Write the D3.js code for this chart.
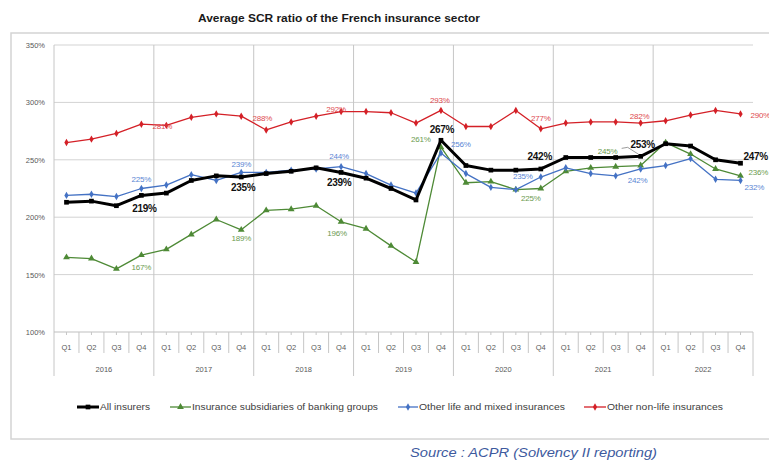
<!DOCTYPE html>
<html>
<head>
<meta charset="utf-8">
<script src="https://cdn.jsdelivr.net/npm/d3@7"></script>
<style>
  html, body { margin: 0; padding: 0; background: #fff; }
  svg { display: block; font-family: "Liberation Sans", Arial, sans-serif; }
</style>
</head>
<body>
<svg id="chart" width="769" height="461"></svg>
<script>
// ---- Data ----
const years = ["2016", "2017", "2018", "2019", "2020", "2021", "2022"];
const quarters = ["Q1", "Q2", "Q3", "Q4"];
const yTicks = [100, 150, 200, 250, 300, 350];

const allInsurers = [213, 214, 210, 219, 221, 232, 236, 235, 238, 240, 243, 239, 234, 225, 215, 267, 245, 241, 241, 242, 252, 252, 252, 253, 264, 262, 250, 247];
const bankingSubsidiaries = [165, 164, 155, 167, 172, 185, 198, 189, 206, 207, 210, 196, 190, 175, 161, 261, 230, 231, 224, 225, 240, 243, 244, 245, 265, 255, 242, 236];
const otherLifeMixed = [219, 220, 218, 225, 228, 237, 232, 239, 239, 241, 242, 244, 238, 228, 221, 256, 238, 226, 224, 235, 243, 238, 236, 242, 245, 251, 233, 232];
const otherNonLife = [265, 268, 273, 281, 280, 287, 290, 288, 276, 283, 288, 292, 292, 291, 282, 293, 279, 279, 293, 277, 282, 283, 283, 282, 284, 289, 293, 290];

const seriesNames = ["All insurers", "Insurance subsidiaries of banking groups", "Other life and mixed insurances", "Other non-life insurances"];
const titleText = "Average SCR ratio of the French insurance sector";
const sourceText = "Source : ACPR (Solvency II reporting)";

// ---- Build ----
const cats = [];
years.forEach(y => quarters.forEach(q => cats.push(y + "-" + q)));

const svg = d3.select("#chart");
const x = d3.scaleBand().domain(cats).range([54, 753]).padding(0);
const y = d3.scaleLinear().domain([100, 350]).range([332, 45]);
const cx = i => x(cats[i]) + x.bandwidth() / 2;

// outer frame
svg.append("rect").attr("x", 11).attr("y", 33).attr("width", 780).attr("height", 406)
  .attr("fill", "none").attr("stroke", "#d4d4d4").attr("stroke-width", 1.5);

// title
svg.append("text").attr("x", 198).attr("y", 21.5).text(titleText)
  .attr("font-size", 11).attr("font-weight", "bold").attr("fill", "#1a1a1a")
  .attr("textLength", 282).attr("lengthAdjust", "spacingAndGlyphs");

// horizontal gridlines
svg.append("g").selectAll("line").data(yTicks.filter(d => d > 100)).join("line")
  .attr("x1", 54).attr("x2", 753).attr("y1", d => y(d)).attr("y2", d => y(d))
  .attr("stroke", "#d3d3d3").attr("stroke-width", 1);

// y labels
svg.append("g").selectAll("text").data(yTicks).join("text")
  .attr("x", 45).attr("y", d => y(d) + 3).attr("text-anchor", "end")
  .attr("font-size", 7.5).attr("fill", "#595959").text(d => d + "%");

// year separators (full height)
const yearBounds = years.map((yr, i) => x(yr + "-Q1")).concat([753]);
svg.append("g").selectAll("line").data(yearBounds).join("line")
  .attr("x1", d => d).attr("x2", d => d)
  .attr("y1", (d, i) => i === yearBounds.length - 1 ? y(100) : y(350)).attr("y2", 376)
  .attr("stroke", "#c6c6c6").attr("stroke-width", 1);

// axis line
svg.append("line").attr("x1", 54).attr("x2", 753).attr("y1", y(100)).attr("y2", y(100))
  .attr("stroke", "#bfbfbf").attr("stroke-width", 1);

// quarter separators
svg.append("g").selectAll("line").data(cats.filter(c => !c.endsWith("Q1"))).join("line")
  .attr("x1", d => x(d)).attr("x2", d => x(d)).attr("y1", y(100)).attr("y2", 353)
  .attr("stroke", "#c6c6c6").attr("stroke-width", 1);
// small ticks
svg.append("g").selectAll("line").data(cats).join("line")
  .attr("x1", (d, i) => cx(i)).attr("x2", (d, i) => cx(i)).attr("y1", y(100)).attr("y2", y(100) + 3)
  .attr("stroke", "#c6c6c6").attr("stroke-width", 1);

// quarter labels
svg.append("g").selectAll("text").data(cats).join("text")
  .attr("x", (d, i) => cx(i)).attr("y", 350).attr("text-anchor", "middle")
  .attr("font-size", 7.5).attr("fill", "#595959").text(d => d.split("-")[1]);
// year labels
svg.append("g").selectAll("text").data(years).join("text")
  .attr("x", d => x(d + "-Q1") + 2 * x.bandwidth()).attr("y", 372).attr("text-anchor", "middle")
  .attr("font-size", 7.5).attr("fill", "#595959").text(d => d);

// ---- series ----
const series = [
  { name: seriesNames[0], values: allInsurers, color: "#000000", width: 3, symbol: d3.symbolSquare, size: 22, label: "#111111", bold: true, lsize: 10 },
  { name: seriesNames[1], values: bankingSubsidiaries, color: "#4e8a36", width: 1.3, symbol: d3.symbolTriangle, size: 20, label: "#6b9b4f", bold: false, lsize: 8 },
  { name: seriesNames[2], values: otherLifeMixed, color: "#4472c4", width: 1.3, symbol: d3.symbolDiamond, size: 16, label: "#5b86d4", bold: false, lsize: 8 },
  { name: seriesNames[3], values: otherNonLife, color: "#d42027", width: 1.3, symbol: d3.symbolDiamond, size: 16, label: "#de4a4f", bold: false, lsize: 8 }
];

// draw order: red, green, blue, black on top
const order = [3, 1, 2, 0];
const line = d3.line().x((d, i) => cx(i)).y(d => y(d));
order.forEach(k => {
  const s = series[k];
  const g = svg.append("g");
  g.append("path").attr("d", line(s.values)).attr("fill", "none")
    .attr("stroke", s.color).attr("stroke-width", s.width).attr("stroke-linejoin", "round");
  g.selectAll("path.m").data(s.values).join("path").attr("class", "m")
    .attr("transform", (d, i) => `translate(${cx(i)},${y(d)})`)
    .attr("d", d3.symbol().type(s.symbol).size(s.size)).attr("fill", s.color);
});

// data labels (offsets from point: dx, dy, anchor) at each Q4
const labelOffsets = [
  [[3, 13, "middle"], [2, 10, "middle"], [-2, 10, "middle"], [1, -11, "middle"], [-1, -12, "middle"], [2, -12, "middle"], [3, -7, "start"]],
  [[0, 12, "middle"], [0, 8, "middle"], [-4, 11, "middle"], [-20, -8, "middle"], [-10, 9, "middle"], [-33, -15, "middle"], [8, -4, "start"]],
  [[0, -10, "middle"], [0, -8, "middle"], [-2, -11, "middle"], [10, -9, "start"], [-18, -1, "middle"], [-3, 11, "middle"], [4, 7, "start"]],
  [[21, 2, "middle"], [21, 2, "middle"], [-5, -3, "middle"], [-1, -10, "middle"], [0, -11, "middle"], [-1, -7, "middle"], [10, 1, "start"]]
];
const q4idx = years.map((yr, i) => i * 4 + 3);
series.forEach((s, k) => {
  svg.append("g").selectAll("text").data(q4idx).join("text")
    .attr("x", (idx, j) => cx(idx) + labelOffsets[k][j][0])
    .attr("y", (idx, j) => y(s.values[idx]) + labelOffsets[k][j][1] + (s.bold ? 3.5 : 3))
    .attr("text-anchor", (idx, j) => labelOffsets[k][j][2])
    .attr("font-size", s.lsize).attr("font-weight", s.bold ? "bold" : "normal")
    .attr("letter-spacing", s.bold ? -0.3 : -0.2)
    .attr("fill", s.label).text(idx => s.values[idx] + "%");
});
// leader line for the 2021 Q4 all-insurers label
{
  const px = cx(23), py = y(allInsurers[23]);
  svg.append("path").attr("d", `M${px - 19},${py - 8} L${px - 13},${py - 9} L${px - 2},${py - 2}`)
    .attr("fill", "none").attr("stroke", "#808080").attr("stroke-width", 0.8);
}

// ---- legend ----
const legendY = 407;
const legendItems = [
  { s: series[0], x0: 77, x1: 99, tx: 100, tl: 50 },
  { s: series[1], x0: 170, x1: 191, tx: 192, tl: 186 },
  { s: series[2], x0: 398, x1: 418, tx: 419, tl: 146 },
  { s: series[3], x0: 584, x1: 606, tx: 607, tl: 116 }
];
legendItems.forEach(it => {
  svg.append("line").attr("x1", it.x0).attr("x2", it.x1).attr("y1", legendY).attr("y2", legendY)
    .attr("stroke", it.s.color).attr("stroke-width", it.s.width);
  svg.append("path").attr("transform", `translate(${(it.x0 + it.x1) / 2},${legendY})`)
    .attr("d", d3.symbol().type(it.s.symbol).size(it.s.size)).attr("fill", it.s.color);
  svg.append("text").attr("x", it.tx).attr("y", legendY + 3.2).text(it.s.name)
    .attr("font-size", 9).attr("fill", "#404040")
    .attr("textLength", it.tl).attr("lengthAdjust", "spacingAndGlyphs");
});

// source
svg.append("text").attr("x", 410).attr("y", 457).text(sourceText)
  .attr("font-size", 13).attr("font-style", "italic").attr("fill", "#3d5a9e")
  .attr("textLength", 247).attr("lengthAdjust", "spacingAndGlyphs");
</script>
</body>
</html>
